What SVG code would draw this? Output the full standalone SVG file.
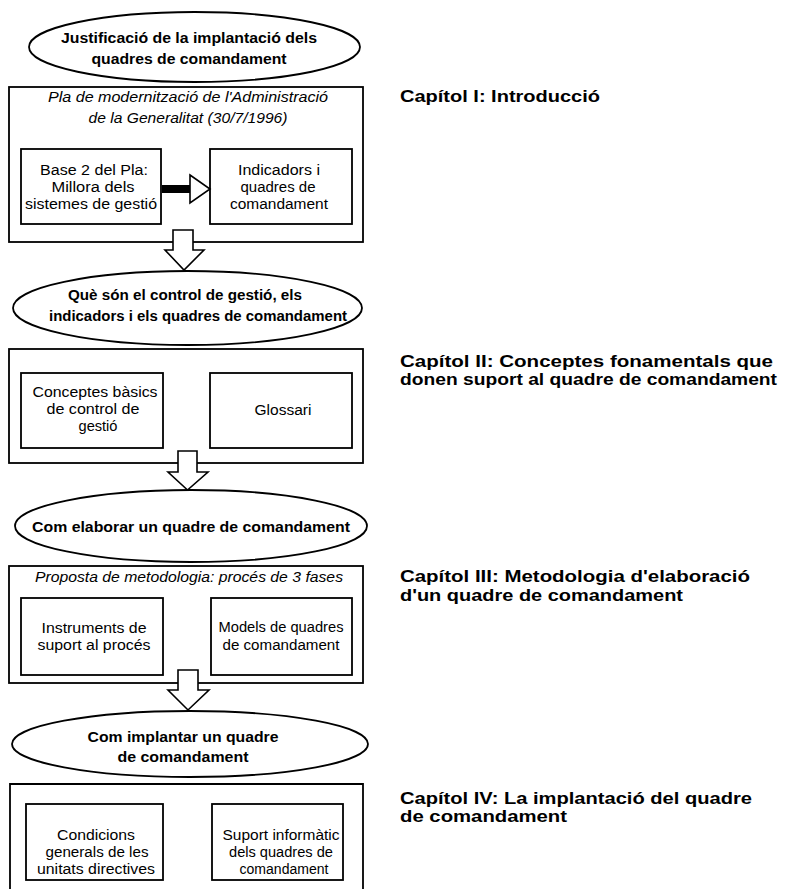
<svg xmlns="http://www.w3.org/2000/svg" width="802" height="889" viewBox="0 0 802 889">
  <style>
    .frame { fill: none; stroke: #000; stroke-width: 1.8; }
    .box { fill: #fff; stroke: #000; stroke-width: 1.8; }
    .oval { fill: #fff; stroke: #000; stroke-width: 1.8; }
    .blk { fill: #fff; stroke: #000; stroke-width: 1.6; stroke-linejoin: miter; }
    text { font-family: "Liberation Sans", Arial, Helvetica, sans-serif; fill: #000; }
    .t-oval { font-size: 14px; font-weight: bold; text-anchor: middle; }
    .t-ital { font-size: 14px; font-style: italic; text-anchor: middle; }
    .t-box { font-size: 14px; text-anchor: middle; }
    .t-cap { font-size: 16px; font-weight: bold; }
  </style>

  <!-- Block 1: justification -->
  <g id="oval-justificacio">
    <ellipse class="oval" cx="194.5" cy="47" rx="165.5" ry="35"/>
    <text class="t-oval" x="189" y="43" textLength="256" lengthAdjust="spacingAndGlyphs">Justificació de la implantació dels</text>
    <text class="t-oval" x="189" y="64" textLength="195" lengthAdjust="spacingAndGlyphs">quadres de comandament</text>
  </g>
  <g id="frame-pla">
    <rect class="frame" x="9" y="87" width="354" height="155"/>
    <text class="t-ital" x="188" y="102" textLength="280" lengthAdjust="spacingAndGlyphs">Pla de modernització de l'Administració</text>
    <text class="t-ital" x="188" y="123" textLength="199" lengthAdjust="spacingAndGlyphs">de la Generalitat (30/7/1996)</text>
  </g>
  <g id="box-base2">
    <rect class="box" x="21" y="149" width="140" height="75"/>
    <text class="t-box" x="94" y="175" textLength="108" lengthAdjust="spacingAndGlyphs">Base 2 del Pla:</text>
    <text class="t-box" x="93" y="192" textLength="83" lengthAdjust="spacingAndGlyphs">Millora dels</text>
    <text class="t-box" x="91" y="209" textLength="132" lengthAdjust="spacingAndGlyphs">sistemes de gestió</text>
  </g>
  <g id="box-indicadors">
    <rect class="box" x="210" y="149" width="142" height="75"/>
    <text class="t-box" x="279" y="175" textLength="82" lengthAdjust="spacingAndGlyphs">Indicadors i</text>
    <text class="t-box" x="278" y="192" textLength="75" lengthAdjust="spacingAndGlyphs">quadres de</text>
    <text class="t-box" x="279" y="209" textLength="98" lengthAdjust="spacingAndGlyphs">comandament</text>
  </g>

  <!-- Block 2: concepts -->
  <g id="oval-conceptes">
    <ellipse class="oval" cx="187.5" cy="308" rx="174.5" ry="37"/>
    <text class="t-oval" x="185" y="300" textLength="234" lengthAdjust="spacingAndGlyphs">Què són el control de gestió, els</text>
    <text class="t-oval" x="198" y="321" textLength="298" lengthAdjust="spacingAndGlyphs">indicadors i els quadres de comandament</text>
  </g>
  <g id="frame-conceptes">
    <rect class="frame" x="9" y="349" width="354" height="114"/>
  </g>
  <g id="box-basics">
    <rect class="box" x="21" y="373" width="142" height="75"/>
    <text class="t-box" x="95" y="397" textLength="125" lengthAdjust="spacingAndGlyphs">Conceptes bàsics</text>
    <text class="t-box" x="93" y="414" textLength="93" lengthAdjust="spacingAndGlyphs">de control de</text>
    <text class="t-box" x="98" y="431" textLength="39" lengthAdjust="spacingAndGlyphs">gestió</text>
  </g>
  <g id="box-glossari">
    <rect class="box" x="210" y="373" width="142" height="75"/>
    <text class="t-box" x="283" y="415" textLength="57" lengthAdjust="spacingAndGlyphs">Glossari</text>
  </g>

  <!-- Block 3: methodology -->
  <g id="oval-elaborar">
    <ellipse class="oval" cx="191" cy="526" rx="176" ry="36"/>
    <text class="t-oval" x="191" y="532" textLength="318" lengthAdjust="spacingAndGlyphs">Com elaborar un quadre de comandament</text>
  </g>
  <g id="frame-metodologia">
    <rect class="frame" x="9" y="566" width="354" height="117"/>
    <text class="t-ital" x="189" y="582" textLength="308" lengthAdjust="spacingAndGlyphs">Proposta de metodologia: procés de 3 fases</text>
  </g>
  <g id="box-instruments">
    <rect class="box" x="21" y="598" width="142" height="77"/>
    <text class="t-box" x="94" y="633" textLength="105" lengthAdjust="spacingAndGlyphs">Instruments de</text>
    <text class="t-box" x="94" y="650" textLength="113" lengthAdjust="spacingAndGlyphs">suport al procés</text>
  </g>
  <g id="box-models">
    <rect class="box" x="211" y="598" width="141" height="77"/>
    <text class="t-box" x="281" y="632" textLength="125" lengthAdjust="spacingAndGlyphs">Models de quadres</text>
    <text class="t-box" x="281" y="650" textLength="117" lengthAdjust="spacingAndGlyphs">de comandament</text>
  </g>

  <!-- Block 4: implementation -->
  <g id="oval-implantar">
    <ellipse class="oval" cx="190" cy="744" rx="178" ry="33"/>
    <text class="t-oval" x="183" y="742" textLength="191" lengthAdjust="spacingAndGlyphs">Com implantar un quadre</text>
    <text class="t-oval" x="183" y="762" textLength="131" lengthAdjust="spacingAndGlyphs">de comandament</text>
  </g>
  <g id="frame-implantacio">
    <path class="frame" d="M10,892 V784 H363 V892"/>
  </g>
  <g id="box-condicions">
    <rect class="box" x="26" y="804" width="137" height="76"/>
    <text class="t-box" x="96" y="840" textLength="78" lengthAdjust="spacingAndGlyphs">Condicions</text>
    <text class="t-box" x="97" y="857" textLength="103" lengthAdjust="spacingAndGlyphs">generals de les</text>
    <text class="t-box" x="96" y="874" textLength="118" lengthAdjust="spacingAndGlyphs">unitats directives</text>
  </g>
  <g id="box-suport">
    <rect class="box" x="212" y="804" width="131" height="76"/>
    <text class="t-box" x="281" y="840" textLength="117" lengthAdjust="spacingAndGlyphs">Suport informàtic</text>
    <text class="t-box" x="281" y="857" textLength="104" lengthAdjust="spacingAndGlyphs">dels quadres de</text>
    <text class="t-box" x="284" y="874" textLength="89" lengthAdjust="spacingAndGlyphs">comandament</text>
  </g>

  <!-- Connectors: block arrows -->
  <g id="connectors">
    <!-- Base 2 to Indicadors -->
    <rect x="162" y="185" width="28" height="8" fill="#000"/>
    <polygon class="blk" points="190,175 210,189 190,203"/>
    <!-- downward arrows between blocks -->
    <polygon class="blk" points="173,230 193,230 193,250 204,250 184,270 165,250 173,250"/>
    <polygon class="blk" points="178,451 197,451 197,472 208,472 187.5,490 168,472 178,472"/>
    <polygon class="blk" points="178,670 198,670 198,690 209,690 188,710 168,690 178,690"/>
  </g>

  <!-- Chapter captions -->
  <g id="capitol-1">
    <text class="t-cap" x="400" y="102" textLength="200" lengthAdjust="spacingAndGlyphs">Capítol I: Introducció</text>
  </g>
  <g id="capitol-2">
    <text class="t-cap" x="400" y="367" textLength="373" lengthAdjust="spacingAndGlyphs">Capítol II: Conceptes fonamentals que</text>
    <text class="t-cap" x="400" y="385" textLength="377" lengthAdjust="spacingAndGlyphs">donen suport al quadre de comandament</text>
  </g>
  <g id="capitol-3">
    <text class="t-cap" x="400" y="582" textLength="350" lengthAdjust="spacingAndGlyphs">Capítol III: Metodologia d'elaboració</text>
    <text class="t-cap" x="400" y="601" textLength="283" lengthAdjust="spacingAndGlyphs">d'un quadre de comandament</text>
  </g>
  <g id="capitol-4">
    <text class="t-cap" x="400" y="804" textLength="352" lengthAdjust="spacingAndGlyphs">Capítol IV: La implantació del quadre</text>
    <text class="t-cap" x="400" y="822" textLength="167" lengthAdjust="spacingAndGlyphs">de comandament</text>
  </g>
</svg>
